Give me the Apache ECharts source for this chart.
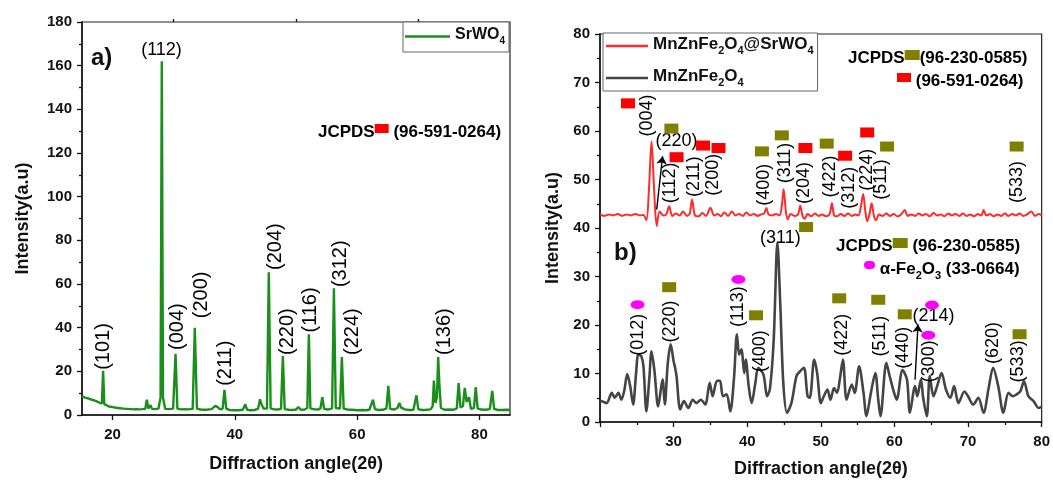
<!DOCTYPE html>
<html>
<head>
<meta charset="utf-8">
<script src="https://cdn.jsdelivr.net/npm/echarts@6/dist/echarts.min.js"></script>
<style>
html,body{margin:0;padding:0;background:#fff;}
#chart{width:1053px;height:483px;}
</style>
</head>
<body>
<div id="chart"></div>
<script>
// (a) SrWO4 diffraction pattern: [2θ, intensity]
const srwo4 = [
  [15.0,8.6],[15.5,8.0],[16.0,7.6],[16.5,7.1],[17.0,6.7],[17.5,6.1],[17.9,5.6],[18.25,5.3],[18.45,20.3],[18.65,5.0],
  [18.9,4.4],[19.4,3.9],[20.0,3.6],[20.6,3.3],[21.2,3.1],[21.8,2.9],[22.4,2.8],[23.0,2.7],[23.6,2.6],[24.2,2.6],
  [24.8,2.7],[25.35,2.8],[25.6,7.0],[25.85,2.9],[26.2,4.5],[26.45,2.8],[26.9,2.7],[27.5,2.9],[27.85,8.0],[28.05,162],
  [28.25,8.0],[28.6,2.8],[29.2,2.7],[29.9,2.9],[30.3,28.0],[30.6,2.9],[31.2,2.6],[31.8,2.7],[32.4,2.6],[33.1,2.8],
  [33.45,40.0],[33.8,2.9],[34.4,2.5],[35.0,2.4],[35.6,2.5],[36.2,2.7],[36.8,4.2],[37.2,3.6],[37.6,2.6],[38.0,2.9],
  [38.3,11.5],[38.6,2.8],[39.2,2.3],[39.9,2.2],[40.6,2.2],[41.3,2.4],[41.7,4.8],[42.0,2.4],[42.6,2.2],[43.2,2.3],
  [43.8,2.8],[44.1,7.2],[44.4,4.6],[44.7,3.0],[45.25,2.9],[45.55,65.4],[45.85,3.0],[46.4,2.6],[47.0,2.5],[47.55,2.8],
  [47.85,27.0],[48.15,2.7],[48.8,2.4],[49.4,2.3],[50.0,2.5],[50.4,3.6],[50.8,2.4],[51.4,2.5],[51.85,3.2],[52.1,37.0],
  [52.35,3.0],[53.0,2.6],[53.6,2.5],[54.0,3.0],[54.3,8.2],[54.6,2.8],[55.2,2.5],[55.9,3.0],[56.2,58.0],[56.5,3.2],
  [57.2,3.0],[57.5,26.6],[57.8,2.9],[58.4,2.5],[59.0,2.4],[59.6,2.3],[60.2,2.2],[60.8,2.3],[61.4,2.2],[62.0,2.4],
  [62.3,3.0],[62.6,7.0],[62.9,2.7],[63.5,2.3],[64.2,2.4],[64.8,3.0],[65.1,13.4],[65.4,2.8],[66.0,2.5],[66.6,3.2],
  [66.9,5.5],[67.2,3.4],[67.5,4.2],[67.8,2.6],[68.5,2.3],[69.2,2.4],[69.45,3.0],[69.7,9.0],[70.0,2.7],[70.6,2.3],
  [71.3,2.4],[72.0,2.6],[72.35,4.0],[72.55,15.8],[72.8,5.5],[73.05,8.0],[73.25,26.6],[73.45,14.0],[73.7,3.2],[74.3,2.4],
  [75.0,2.5],[75.7,2.4],[76.3,3.0],[76.6,14.6],[76.9,3.5],[77.3,4.0],[77.6,12.4],[77.9,6.0],[78.3,8.2],[78.6,2.8],
  [79.1,3.2],[79.4,12.8],[79.7,3.0],[80.3,2.5],[81.0,2.4],[81.7,2.7],[82.1,11.0],[82.4,2.8],[83.0,2.3],[83.7,2.3],
  [84.4,2.4],[85.0,2.3]
];

// (b) MnZnFe2O4@SrWO4 composite, offset trace
const composite = [
  [20.0,42.8],[20.6,42.5],[21.2,42.8],[21.8,42.6],[22.4,42.9],[23.0,42.5],[23.6,42.8],[24.2,42.6],[24.8,42.9],[25.4,42.6],
  [25.9,42.7],[26.3,41.6],[26.65,48.0],[27.0,57.9],[27.35,48.0],[27.7,40.4],[28.1,43.4],[28.6,42.6],[29.0,42.8],[29.4,44.5],
  [29.8,42.5],[30.3,43.0],[30.8,42.6],[31.3,43.4],[31.8,42.5],[32.2,43.0],[32.5,45.9],[32.9,42.6],[33.4,42.4],[33.9,43.1],
  [34.4,42.5],[35.0,44.2],[35.5,42.6],[36.0,42.9],[36.4,42.4],[36.9,43.2],[37.4,42.5],[37.9,43.4],[38.4,42.6],[38.9,42.9],
  [39.4,42.5],[39.9,43.2],[40.4,42.6],[40.9,42.9],[41.4,42.5],[41.9,42.8],[42.3,43.0],[42.6,44.1],[42.9,42.8],[43.4,42.6],
  [43.9,42.9],[44.4,42.6],[44.7,44.6],[44.95,48.0],[45.25,43.4],[45.5,41.8],[45.9,42.9],[46.4,42.5],[46.9,42.8],[47.2,44.6],
  [47.5,42.6],[47.8,41.9],[48.2,42.9],[48.7,42.4],[49.2,43.0],[49.7,42.5],[50.2,42.8],[50.7,42.4],[51.2,42.9],[51.5,45.1],
  [51.8,42.6],[52.2,42.4],[52.7,42.9],[53.2,42.5],[53.7,43.0],[54.2,42.5],[54.7,42.8],[55.1,42.6],[55.45,44.5],[55.75,47.0],
  [56.05,43.4],[56.3,41.4],[56.6,42.8],[56.9,45.1],[57.2,42.6],[57.5,41.6],[57.9,42.8],[58.4,42.5],[58.9,43.0],[59.4,42.5],
  [59.9,42.9],[60.4,42.4],[60.9,42.8],[61.4,43.7],[61.8,42.5],[62.3,42.8],[62.8,42.5],[63.3,43.0],[63.8,42.6],[64.3,42.9],
  [64.8,42.4],[65.3,43.1],[65.8,42.6],[66.3,42.8],[66.8,42.4],[67.3,43.0],[67.8,42.6],[68.3,42.9],[68.8,42.5],[69.3,43.0],
  [69.8,42.5],[70.3,42.8],[70.8,42.4],[71.3,42.9],[71.8,42.6],[72.1,43.7],[72.5,42.6],[73.0,42.9],[73.5,42.4],[74.0,42.8],
  [74.5,42.5],[75.0,43.0],[75.5,42.5],[76.0,42.9],[76.5,42.6],[77.0,43.0],[77.5,42.5],[78.0,42.8],[78.6,43.4],[79.1,42.5],
  [79.6,42.9],[80.0,42.6]
];

// (b) bare MnZnFe2O4 ferrite
const ferrite = [
  [20.0,4.4],[20.4,4.2],[20.9,3.9],[21.6,6.0],[22.0,5.0],[22.5,6.0],[22.9,4.6],[23.3,6.5],[23.7,9.9],[24.1,7.4],
  [24.5,3.6],[24.9,10.0],[25.2,13.9],[25.6,13.6],[25.9,11.5],[26.3,2.2],[26.7,9.0],[27.0,14.6],[27.4,10.5],[27.9,3.2],
  [28.5,8.8],[28.8,3.6],[29.2,12.0],[29.6,16.0],[30.0,12.5],[30.2,11.2],[30.4,9.4],[30.9,2.6],[31.4,4.3],[32.0,2.9],
  [32.6,4.6],[33.1,3.9],[33.7,4.6],[34.3,3.6],[34.9,8.1],[35.3,5.3],[35.9,8.5],[36.3,8.5],[36.7,5.3],[37.2,5.7],
  [37.7,2.2],[38.2,9.0],[38.6,18.1],[38.9,13.9],[39.2,15.0],[39.6,10.1],[39.8,12.9],[40.2,7.4],[40.6,3.9],[41.1,8.0],
  [41.5,11.2],[42.2,9.8],[42.7,5.3],[43.1,7.0],[43.6,17.0],[44.1,37.0],[44.5,23.9],[44.9,8.1],[45.4,1.9],[46.0,3.9],
  [46.7,9.5],[47.2,10.5],[47.7,11.2],[48.2,5.3],[48.5,5.0],[49.1,12.9],[49.5,10.1],[50.0,3.9],[50.4,5.3],[50.9,6.7],
  [51.3,4.6],[51.8,7.0],[52.2,6.0],[52.6,9.0],[53.0,12.9],[53.5,4.6],[54.2,7.7],[54.6,6.0],[55.2,11.5],[55.8,6.0],
  [56.2,1.2],[56.8,6.0],[57.4,10.1],[57.8,4.6],[58.1,1.2],[58.9,12.2],[59.3,9.8],[59.9,6.3],[60.3,4.6],[61.1,10.7],
  [61.7,8.8],[62.1,1.9],[62.8,7.4],[63.1,5.3],[63.6,8.8],[63.9,5.0],[64.4,1.2],[64.8,9.5],[65.3,5.3],[65.8,7.4],
  [66.4,10.1],[67.0,6.7],[67.6,5.0],[68.1,7.4],[68.7,3.9],[69.5,6.3],[70.0,5.3],[70.7,3.6],[71.4,5.0],[72.1,1.9],
  [72.8,7.0],[73.4,11.2],[74.1,7.4],[74.8,1.9],[75.5,6.0],[76.1,5.3],[76.6,5.7],[77.1,6.3],[77.6,8.4],[78.2,5.3],
  [78.9,4.3],[79.6,2.9],[80.0,3.2]
];

// Miller index labels: [text, 2θ, intensity]
const hklVerticalA = [
  ['(101)',18.55,31.4],['(004)',30.6,40.5],['(200)',34.5,55.0],['(211)',38.5,23.7],['(204)',46.6,77.1],
  ['(220)',48.6,38.2],['(116)',52.3,48.1],['(312)',57.2,69.3],['(224)',59.3,38.2],['(136)',74.3,38.2]
];
const hklHorizontalA = [['(112)',28.0,167.2]];

const hklVerticalB = [
  ['(004)',26.4,63.2],['(112)',29.5,49.3],['(211)',32.8,50.6],['(200)',35.4,51.0],['(400)',42.3,48.9],
  ['(311)',45.1,53.4],['(204)',47.7,49.3],['(422)',51.2,50.6],['(312)',53.8,48.3],['(224)',56.3,52.0],
  ['(511)',58.2,50.0],['(533)',76.7,49.5],
  ['(012)',25.2,18.0],['(220)',29.5,20.7],['(113)',38.7,23.8],['(400)',41.7,14.6],['(422)',52.9,18.0],
  ['(511)',58.0,17.7],['(440)',61.1,15.3],['(300)',64.7,12.5],['(620)',73.4,16.3],['(533)',76.8,12.5]
];
const hklHorizontalB = [['(220)',30.4,57.9],['(311)',44.5,38.0],['(214)',65.3,21.8]];

// Reference pattern markers in panel (b)
const srwo4Refs = [[23.8,65.7],[30.4,54.6],[34.0,57.0],[36.1,56.5],[47.9,56.5],[53.3,54.9],[56.3,59.7]];
const spinelRefs = [[29.7,60.5],[42.0,55.8],[44.7,59.1],[50.8,57.4],[59.0,56.8],[76.6,56.8],[48.0,40.2],
  [29.4,27.8],[41.2,22.0],[52.5,25.5],[57.8,25.2],[61.4,22.2],[77.0,18.1]];
const hematiteRefs = [[25.1,24.2],[38.8,29.4],[65.1,24.1],[64.6,17.9]];

// Arrows pointing at crowded labels: [[from], [to]]
const arrowsB = [[[27.7,43.8],[28.5,54.8]], [[62.8,8.7],[63.2,20.1]]];

// Axis tick values
const xMajorA = [20,40,60,80];
const xMinorA = [30,50,70];

const FONT = '"Liberation Sans", Arial, Helvetica, sans-serif';
const chart = echarts.init(document.getElementById('chart'), null, {renderer: 'canvas'});

const subRich = (size) => ({
  n: {fontFamily: FONT, fontWeight: 'bold', fontSize: size, color: '#111', lineHeight: size + 3, verticalAlign: 'top'},
  s: {fontFamily: FONT, fontWeight: 'bold', fontSize: Math.round(size * 0.65), color: '#111',
      lineHeight: Math.round(size * 0.7), padding: [Math.round(size * 0.55), 0, 0, 0], verticalAlign: 'top'},
  r: {backgroundColor: '#ff0000', width: 14, height: 9, verticalAlign: 'top', padding: 0},
  o: {backgroundColor: '#808000', width: 15, height: 10, verticalAlign: 'top'},
  m: {backgroundColor: '#ff00ff', width: 11, height: 8, borderRadius: 5, verticalAlign: 'top'}
});

const legendNames = {
  'SrWO4': '{n|SrWO}{s|4}',
  'MnZnFe2O4@SrWO4': '{n|MnZnFe}{s|2}{n|O}{s|4}{n|@SrWO}{s|4}',
  'MnZnFe2O4': '{n|MnZnFe}{s|2}{n|O}{s|4}'
};

const axisLine = {show: true, lineStyle: {color: '#111', width: 1.5}};
const tickLabel = {color: '#111', fontFamily: FONT, fontWeight: 'bold', fontSize: 15};
const nameStyle = {color: '#111', fontFamily: FONT, fontWeight: 'bold', fontSize: 18};

function labelSeries(arr, xi, yi, rotate, size) {
  return {
    type: 'scatter', xAxisIndex: xi, yAxisIndex: yi, symbolSize: 1, silent: true, z: 5,
    itemStyle: {color: 'transparent', opacity: 1},
    data: arr.map(d => ({name: d[0], value: [d[1], d[2]]})),
    label: {show: true, position: 'inside', rotate: rotate, formatter: '{b}', color: '#000',
            opacity: 1, fontFamily: FONT, fontSize: size},
    emphasis: {disabled: true}
  };
}

function markerSeries(arr, symbol, size, color) {
  return {
    type: 'scatter', xAxisIndex: 2, yAxisIndex: 1, symbol: symbol, symbolSize: size, silent: true, z: 6,
    itemStyle: {color: color, opacity: 1}, data: arr, emphasis: {disabled: true}
  };
}

const legendBase = {
  orient: 'vertical', backgroundColor: '#fff', borderColor: '#666', borderWidth: 1, borderRadius: 0,
  icon: 'rect', itemHeight: 2.5, selectedMode: false, formatter: n => legendNames[n]
};

const option = {
  animation: false,
  backgroundColor: '#fff',
  grid: [
    {left: 82, right: 543, top: 22, bottom: 68, show: true, borderColor: '#222', borderWidth: 1.2, backgroundColor: 'transparent'},
    {left: 600, right: 7, top: 34, bottom: 61, show: true, borderColor: '#222', borderWidth: 1.2, backgroundColor: 'transparent'}
  ],
  xAxis: [
    {type: 'value', gridIndex: 0, min: 15, max: 85, axisLine: axisLine,
     axisTick: {show: true, length: 5, customValues: xMajorA, lineStyle: {color: '#111', width: 1.3}},
     axisLabel: Object.assign({customValues: xMajorA, margin: 12}, tickLabel),
     splitLine: {show: false},
     name: 'Diffraction angle(2θ)', nameLocation: 'middle', nameGap: 40, nameTextStyle: nameStyle},
    {type: 'value', gridIndex: 0, min: 15, max: 85, axisLine: {show: false},
     axisTick: {show: true, length: 3, customValues: xMinorA, lineStyle: {color: '#111', width: 1.3}},
     axisLabel: {show: false}, splitLine: {show: false}},
    {type: 'value', gridIndex: 1, min: 20, max: 80, interval: 10, axisLine: axisLine,
     axisTick: {show: true, length: 5, lineStyle: {color: '#111', width: 1.3}},
     minorTick: {show: true, splitNumber: 2, length: 3, lineStyle: {color: '#111', width: 1.3}},
     axisLabel: Object.assign({showMinLabel: false, margin: 12}, tickLabel),
     splitLine: {show: false},
     name: 'Diffraction angle(2θ)', nameLocation: 'middle', nameGap: 38, nameTextStyle: nameStyle}
  ],
  yAxis: [
    {type: 'value', gridIndex: 0, min: 0, max: 180, interval: 20, axisLine: axisLine,
     axisTick: {show: true, length: 5, lineStyle: {color: '#111', width: 1.3}},
     minorTick: {show: true, splitNumber: 2, length: 3, lineStyle: {color: '#111', width: 1.3}},
     axisLabel: Object.assign({margin: 10}, tickLabel), splitLine: {show: false},
     name: 'Intensity(a.u)', nameLocation: 'middle', nameGap: 50, nameTextStyle: nameStyle},
    {type: 'value', gridIndex: 1, min: 0, max: 80, interval: 10, axisLine: axisLine,
     axisTick: {show: true, length: 5, lineStyle: {color: '#111', width: 1.3}},
     minorTick: {show: true, splitNumber: 2, length: 3, lineStyle: {color: '#111', width: 1.3}},
     axisLabel: Object.assign({margin: 10}, tickLabel), splitLine: {show: false},
     name: 'Intensity(a.u)', nameLocation: 'middle', nameGap: 38, nameTextStyle: nameStyle}
  ],
  legend: [
    Object.assign({data: ['SrWO4'], left: 403, top: 22, padding: [5, 4, 6, 2], itemWidth: 45,
                   textStyle: {rich: subRich(16)}}, legendBase),
    Object.assign({data: ['MnZnFe2O4@SrWO4', 'MnZnFe2O4'], left: 603, top: 33, padding: [3, 4, 3, 3],
                   itemGap: 12, itemWidth: 42, textStyle: {rich: subRich(17)}}, legendBase)
  ],
  series: [
    {name: 'SrWO4', type: 'line', xAxisIndex: 0, yAxisIndex: 0, data: srwo4, symbol: 'none',
     lineStyle: {color: '#1a8f1a', width: 2.4}, itemStyle: {color: '#1a8f1a'}, z: 3},
    {name: 'MnZnFe2O4@SrWO4', type: 'line', xAxisIndex: 2, yAxisIndex: 1, data: composite, symbol: 'none',
     smooth: 0.3, lineStyle: {color: '#ff2a2a', width: 2}, itemStyle: {color: '#ff2a2a'}, z: 3},
    {name: 'MnZnFe2O4', type: 'line', xAxisIndex: 2, yAxisIndex: 1, data: ferrite, symbol: 'none',
     smooth: 0.3, lineStyle: {color: '#444', width: 2.6}, itemStyle: {color: '#444'}, z: 3},
    labelSeries(hklVerticalA, 0, 0, 90, 20),
    labelSeries(hklHorizontalA, 0, 0, 0, 18),
    labelSeries(hklVerticalB, 2, 1, 90, 18),
    labelSeries(hklHorizontalB, 2, 1, 0, 18),
    Object.assign(markerSeries(srwo4Refs, 'rect', [14, 10], '#ff0000'), {
      markLine: {
        silent: true, symbol: ['none', 'arrow'], symbolSize: 8,
        lineStyle: {color: '#000', width: 1.4, type: 'solid'}, label: {show: false},
        emphasis: {disabled: true},
        data: arrowsB.map(a => [{coord: a[0]}, {coord: a[1]}])
      }
    }),
    markerSeries(spinelRefs, 'rect', [14, 10], '#808000'),
    markerSeries(hematiteRefs, 'circle', [14, 9], '#ff00ff')
  ],
  graphic: [
    {type: 'text', x: 91, y: 46, style: {text: 'a)', font: 'bold 24px ' + FONT, fill: '#111'}},
    {type: 'text', x: 614, y: 241, style: {text: 'b)', font: 'bold 24px ' + FONT, fill: '#111'}},
    {type: 'text', x: 318, y: 124, style: {text: '{n|JCPDS}{r|}{n| (96-591-0264)}', rich: subRich(17)}},
    {type: 'text', x: 848, y: 50, style: {text: '{n|JCPDS}{o|}{n|(96-230-0585)}', rich: subRich(17)}},
    {type: 'text', x: 897, y: 73, style: {text: '{r|}{n| (96-591-0264)}', rich: subRich(17)}},
    {type: 'text', x: 836, y: 238, style: {text: '{n|JCPDS}{o|}{n| (96-230-0585)}', rich: subRich(17)}},
    {type: 'text', x: 864, y: 261, style: {text: '{m|}{n| α-Fe}{s|2}{n|O}{s|3}{n| (33-0664)}', rich: subRich(17)}}
  ]
};

chart.setOption(option);
</script>
</body>
</html>
